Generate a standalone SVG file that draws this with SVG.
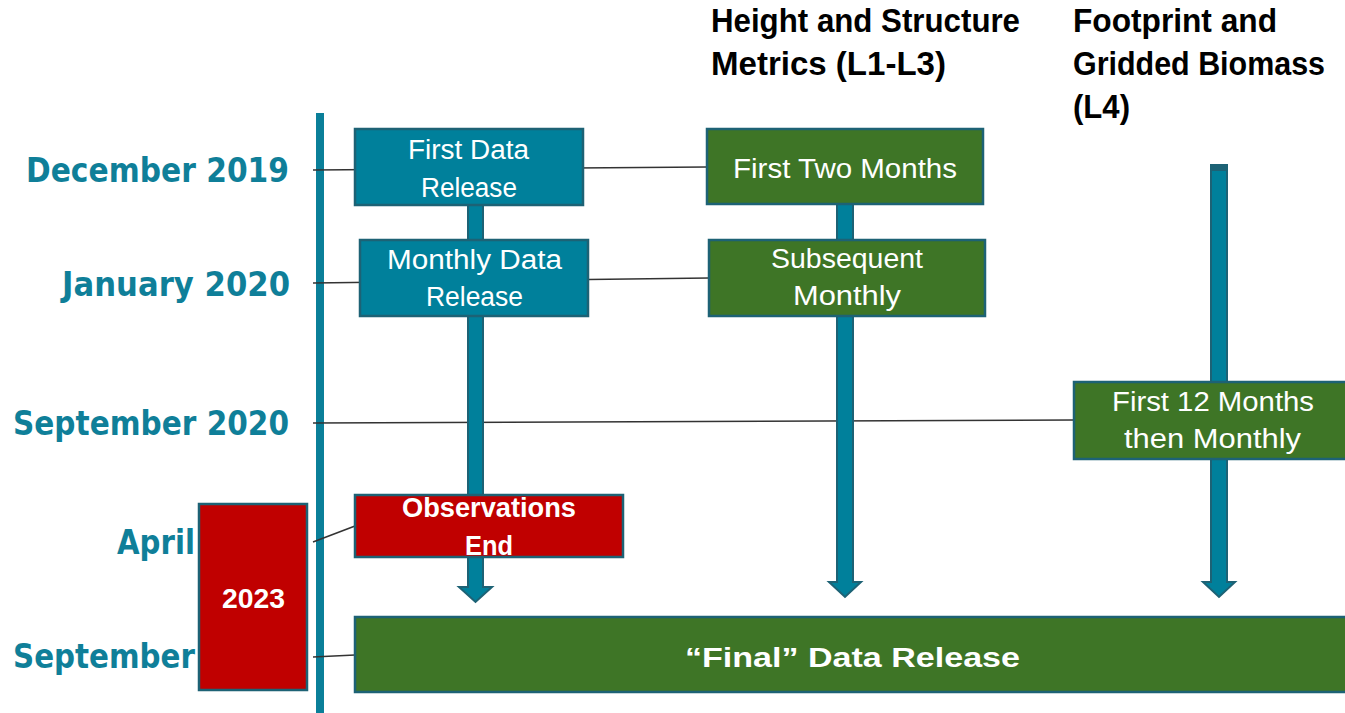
<svg xmlns="http://www.w3.org/2000/svg" width="1345" height="713" viewBox="0 0 1345 713">
<style>
.lbl{font-family:"DejaVu Sans",Verdana,sans-serif;font-weight:bold;font-size:33px;fill:#0F7F99;text-anchor:end}
.hdr{font-family:"Liberation Sans",Arial,sans-serif;font-weight:bold;font-size:34px;fill:#000}
.bt{font-family:"Liberation Sans",Arial,sans-serif;font-size:27px;fill:#fff;text-anchor:middle}
.bb{font-family:"Liberation Sans",Arial,sans-serif;font-weight:bold;font-size:27px;fill:#fff;text-anchor:middle}
.teal{fill:#00809B;stroke:#1D6275;stroke-width:2.5}
.green{fill:#3E7526;stroke:#1D6275;stroke-width:2.5}
.red{fill:#C00000;stroke:#1D6275;stroke-width:2.5}
.conn{stroke:#333;stroke-width:1.5;fill:none}
.arr{fill:#00809B;stroke:#1D6275;stroke-width:2}
</style>
<g id="timeline">
<rect x="316" y="113" width="8" height="600" fill="#0A7F99"/>
</g>
<g id="labels">
<text class="lbl" x="289" y="182" textLength="263" lengthAdjust="spacingAndGlyphs">December 2019</text>
<text class="lbl" x="290" y="296" textLength="228" lengthAdjust="spacingAndGlyphs">January 2020</text>
<text class="lbl" x="289" y="435" textLength="276" lengthAdjust="spacingAndGlyphs">September 2020</text>
<text class="lbl" x="195" y="554" textLength="78" lengthAdjust="spacingAndGlyphs">April</text>
<text class="lbl" x="195" y="668" textLength="182" lengthAdjust="spacingAndGlyphs">September</text>
</g>
<g id="headers">
<text class="hdr" x="711" y="32" textLength="309" lengthAdjust="spacingAndGlyphs">Height and Structure</text>
<text class="hdr" x="711" y="75" textLength="235" lengthAdjust="spacingAndGlyphs">Metrics (L1-L3)</text>
<text class="hdr" x="1073" y="32" textLength="204" lengthAdjust="spacingAndGlyphs">Footprint and</text>
<text class="hdr" x="1073" y="75" font-size="32" textLength="252" lengthAdjust="spacingAndGlyphs">Gridded Biomass</text>
<text class="hdr" x="1073" y="118" textLength="57" lengthAdjust="spacingAndGlyphs">(L4)</text>
</g>
<g id="connectors">
<line class="conn" x1="313" y1="170" x2="707" y2="167"/>
<line class="conn" x1="313" y1="283" x2="709" y2="278"/>
<line class="conn" x1="313" y1="423" x2="1074" y2="420"/>
<line class="conn" x1="313" y1="542" x2="355" y2="526"/>
<line class="conn" x1="313" y1="657" x2="355" y2="655"/>
<polygon class="arr" points="468,205 483,205 483,587 492,587 475.5,602 459,587 468,587"/>
<polygon class="arr" points="837,204 853,204 853,582 861,582 845,597 829,582 837,582"/>
<polygon class="arr" points="1211,165 1227,165 1227,582 1235,582 1219,597 1203,582 1211,582"/>
<rect x="1211" y="165" width="16" height="6" fill="#1D6275"/>
</g>
<g id="first-data-release">
<rect class="teal" x="355" y="129" width="228" height="76"/>
<text class="bt" x="468.5" y="159" textLength="121" lengthAdjust="spacingAndGlyphs">First Data</text>
<text class="bt" x="469" y="197" textLength="96" lengthAdjust="spacingAndGlyphs">Release</text>
</g>
<g id="monthly-data-release">
<rect class="teal" x="360" y="240" width="228" height="76"/>
<text class="bt" x="474.5" y="269" textLength="175" lengthAdjust="spacingAndGlyphs">Monthly Data</text>
<text class="bt" x="474.5" y="306" textLength="97" lengthAdjust="spacingAndGlyphs">Release</text>
</g>
<g id="first-two-months">
<rect class="green" x="707" y="129" width="276" height="75"/>
<text class="bt" x="845" y="178" textLength="224" lengthAdjust="spacingAndGlyphs">First Two Months</text>
</g>
<g id="subsequent-monthly">
<rect class="green" x="709" y="240" width="276" height="76"/>
<text class="bt" x="847" y="268" textLength="152" lengthAdjust="spacingAndGlyphs">Subsequent</text>
<text class="bt" x="847" y="305" textLength="108" lengthAdjust="spacingAndGlyphs">Monthly</text>
</g>
<g id="first-12-months">
<rect class="green" x="1074" y="382" width="280" height="77"/>
<text class="bt" x="1213" y="411" textLength="202" lengthAdjust="spacingAndGlyphs">First 12 Months</text>
<text class="bt" x="1212.5" y="448" textLength="177" lengthAdjust="spacingAndGlyphs">then Monthly</text>
</g>
<g id="observations-end">
<rect class="red" x="355" y="495" width="268" height="62"/>
<text class="bb" x="489" y="517" textLength="174" lengthAdjust="spacingAndGlyphs">Observations</text>
<text class="bb" x="489" y="555" textLength="48" lengthAdjust="spacingAndGlyphs">End</text>
</g>
<g id="year-2023">
<rect class="red" x="199" y="504" width="108" height="186"/>
<text class="bb" x="253.5" y="608" textLength="63" lengthAdjust="spacingAndGlyphs">2023</text>
</g>
<g id="final-data-release">
<rect class="green" x="355" y="617" width="1000" height="75"/>
<text class="bb" x="852.5" y="667" font-size="35" textLength="335" lengthAdjust="spacingAndGlyphs">“Final” Data Release</text>
</g>
</svg>
